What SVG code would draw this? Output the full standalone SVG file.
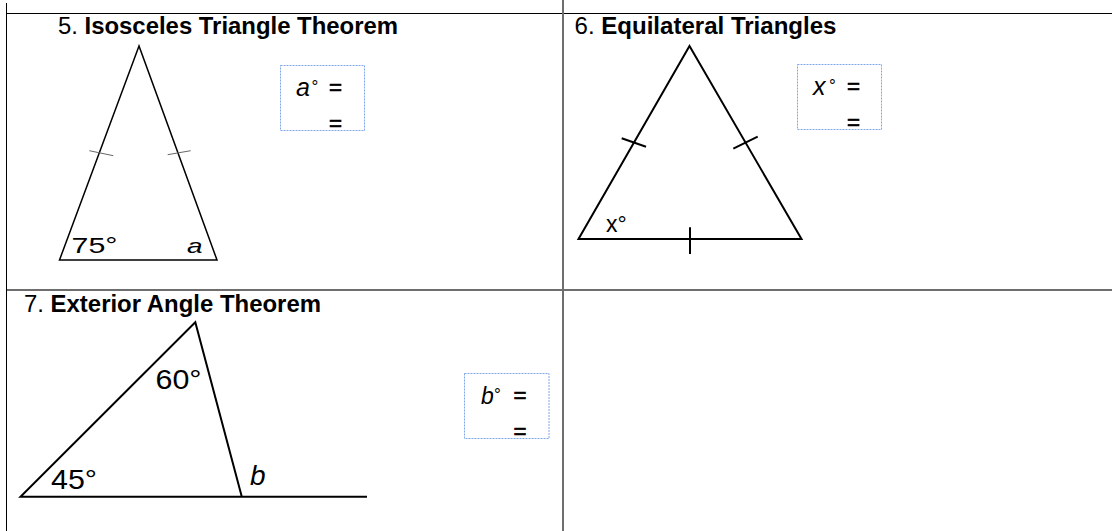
<svg xmlns="http://www.w3.org/2000/svg" width="1112" height="531" viewBox="0 0 1112 531">
<style>
.title{font-family:"Liberation Sans",Arial,sans-serif;font-weight:bold;font-size:23px;fill:#000}
.num{font-weight:normal}
.lbl{font-family:"Liberation Sans",Arial,sans-serif;fill:#000}
.it{font-style:italic}
.eq{stroke:#000;stroke-width:0.7}
.tri{fill:none;stroke:#000;stroke-linejoin:miter}
.tick{stroke:#000;stroke-width:2}
.tick1{stroke:#666;stroke-width:1}
.box{fill:none;stroke:#7ea6e8;stroke-width:1;stroke-dasharray:2 1}
.grid{stroke:#000;stroke-width:1}
.grid2{stroke:#6e6e6e;stroke-width:2}
</style>
<rect width="1112" height="531" fill="#fff"/>
<g id="table">
<line class="grid" x1="6.5" y1="3" x2="6.5" y2="531"/>
<line class="grid" x1="6" y1="13.5" x2="1112" y2="13.5"/>
<line class="grid2" x1="563" y1="0" x2="563" y2="531"/>
<line class="grid2" x1="7" y1="290" x2="1112" y2="290"/>
</g>
<g id="cell5">
<text class="title" x="58" y="34.3" textLength="340" lengthAdjust="spacingAndGlyphs"><tspan class="num">5.</tspan> Isosceles Triangle Theorem</text>
<polygon class="tri" stroke-width="1.5" points="139,46 59.5,260 217,260"/>
<line class="tick1" x1="89.3" y1="150.7" x2="113.3" y2="155.7"/>
<line class="tick1" x1="167.7" y1="154.7" x2="190.7" y2="150.7"/>
<text class="lbl" x="71.5" y="253.3" font-size="22" textLength="46" lengthAdjust="spacingAndGlyphs">75°</text>
<text class="lbl it" x="187" y="253" font-size="21" textLength="15.5" lengthAdjust="spacingAndGlyphs">a</text>
<rect class="box" x="280.5" y="65.5" width="84" height="65"/>
<text class="lbl it" x="296" y="95.5" font-size="25">a</text>
<text class="lbl" x="311.5" y="92" font-size="17">°</text>
<text class="lbl eq" x="329" y="95" font-size="22" textLength="13" lengthAdjust="spacingAndGlyphs">=</text>
<text class="lbl eq" x="329" y="130.5" font-size="22" textLength="13" lengthAdjust="spacingAndGlyphs">=</text>
</g>
<g id="cell6">
<text class="title" x="574.5" y="34.3" textLength="262" lengthAdjust="spacingAndGlyphs"><tspan class="num">6.</tspan> Equilateral Triangles</text>
<polygon class="tri" stroke-width="2" points="689.5,46 578.5,239 801.5,239"/>
<line class="tick" x1="621.7" y1="138.3" x2="646" y2="146.7"/>
<line class="tick" x1="733.3" y1="148.7" x2="757.7" y2="136.7"/>
<line class="tick" x1="690" y1="227.3" x2="690" y2="254"/>
<text class="lbl" x="606" y="231.7" font-size="23">x°</text>
<rect class="box" x="797.5" y="64.5" width="84" height="65"/>
<text class="lbl it" x="813" y="95" font-size="25">x</text>
<text class="lbl" x="829" y="90.5" font-size="17">°</text>
<text class="lbl eq" x="847" y="94" font-size="22" textLength="13" lengthAdjust="spacingAndGlyphs">=</text>
<text class="lbl eq" x="847" y="130" font-size="22" textLength="13" lengthAdjust="spacingAndGlyphs">=</text>
</g>
<g id="cell7">
<text class="title" x="24" y="311.7" textLength="297" lengthAdjust="spacingAndGlyphs"><tspan class="num">7.</tspan> Exterior Angle Theorem</text>
<polyline class="tri" stroke-width="2" points="241.8,496.8 195.3,322.3 20.5,496.8 367,496.8"/>
<text class="lbl" x="155.5" y="389" font-size="28" textLength="46" lengthAdjust="spacingAndGlyphs">60°</text>
<text class="lbl" x="51" y="489" font-size="28" textLength="46" lengthAdjust="spacingAndGlyphs">45°</text>
<text class="lbl it" x="250" y="485" font-size="28">b</text>
<rect class="box" x="464.5" y="373.5" width="84.5" height="65"/>
<text class="lbl it" x="481" y="403.5" font-size="23">b</text>
<text class="lbl" x="494" y="399.5" font-size="17">°</text>
<text class="lbl eq" x="513.5" y="403" font-size="22" textLength="13" lengthAdjust="spacingAndGlyphs">=</text>
<text class="lbl eq" x="513.5" y="439" font-size="22" textLength="13" lengthAdjust="spacingAndGlyphs">=</text>
</g>
<g id="cell8"></g>
</svg>
